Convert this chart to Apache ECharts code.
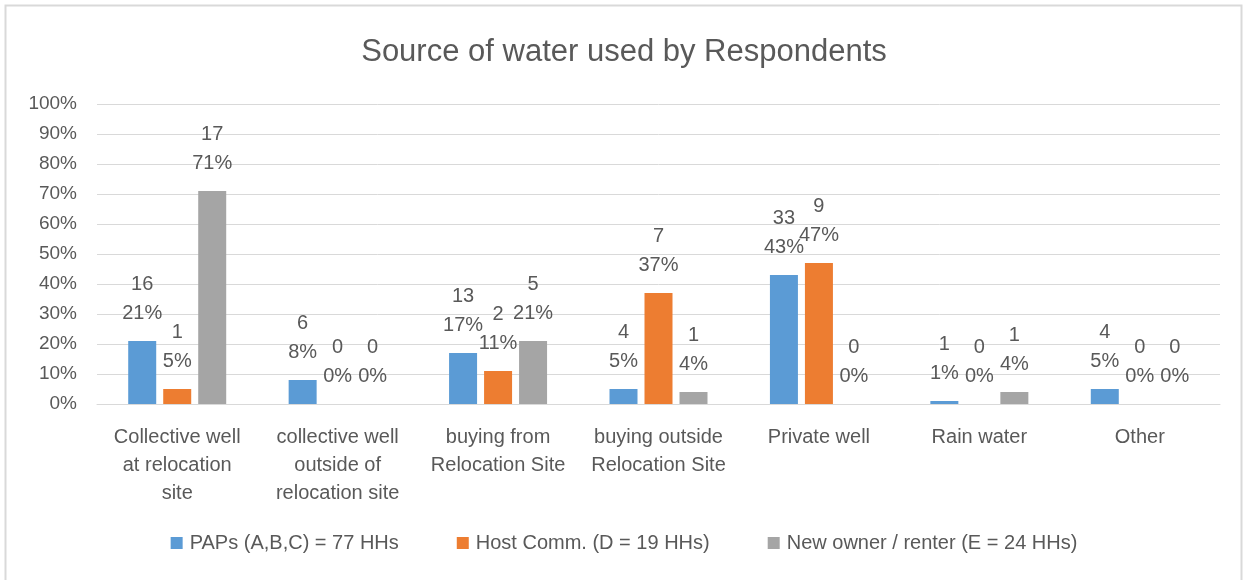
<!DOCTYPE html>
<html>
<head>
<meta charset="utf-8">
<script src="https://cdn.jsdelivr.net/npm/echarts@6/dist/echarts.min.js"></script>
<style>
    html, body { margin: 0; padding: 0; background: #fff; }
    #chart { width: 1248px; height: 580px; }
</style>
</head>
<body>
<div id="chart"></div>
<script>
var categories = [
    "Collective well\nat relocation\nsite",
    "collective well\noutside of\nrelocation site",
    "buying from\nRelocation Site",
    "buying outside\nRelocation Site",
    "Private well",
    "Rain water",
    "Other",
];

var seriesNames = [
    "PAPs (A,B,C) = 77 HHs",
    "Host Comm. (D = 19 HHs)",
    "New owner / renter (E = 24 HHs)",
];

// percent of households (bar height)
var papsPct = [21, 8, 17, 5, 43, 1, 5];
var hostPct = [5, 0, 11, 37, 47, 0, 0];
var newPct = [71, 0, 21, 4, 0, 4, 0];

// household counts (shown above the percent)
var papsCount = [16, 6, 13, 4, 33, 1, 4];
var hostCount = [1, 0, 2, 7, 9, 0, 0];
var newCount = [17, 0, 5, 1, 0, 1, 0];

var yTicks = [0, 10, 20, 30, 40, 50, 60, 70, 80, 90, 100];

var colors = ["#5B9BD5", "#ED7D31", "#A5A5A5"];
var textColor = "#595959";
var font = "Liberation Sans";

function makeSeries(name, pct, counts, color) {
    return {
        name: name,
        type: "bar",
        barWidth: 28,
        barGap: "25%",
        itemStyle: {
            color: color,
        },
        label: {
            show: true,
            position: "top",
            distance: 13,
            color: textColor,
            fontFamily: font,
            fontSize: 20,
            lineHeight: 29,
            formatter: function (p) {
                return counts[p.dataIndex] + "\n" + pct[p.dataIndex] + "%";
            },
        },
        data: pct,
    };
}

var option = {
    animation: false,
    textStyle: {
        fontFamily: font,
    },
    title: {
        text: "Source of water used by Respondents",
        left: "center",
        top: 32,
        textStyle: {
            color: textColor,
            fontFamily: font,
            fontSize: 31,
            fontWeight: "normal",
        },
    },
    graphic: [
        {
            type: "rect",
            shape: { x: 5.5, y: 5.5, width: 1236, height: 600 },
            style: { fill: "none", stroke: "#D9D9D9", lineWidth: 2 },
            silent: true,
        },
    ],
    legend: {
        bottom: 22,
        left: "center",
        itemWidth: 12,
        itemHeight: 12,
        itemGap: 58,
        icon: "rect",
        textStyle: {
            color: textColor,
            fontFamily: font,
            fontSize: 20,
            padding: [0, 0, 0, 2],
        },
        data: seriesNames,
    },
    grid: {
        left: 97,
        right: 28,
        top: 104,
        bottom: 176,
    },
    xAxis: {
        type: "category",
        data: categories,
        axisLine: {
            lineStyle: { color: "#D9D9D9", width: 1 },
        },
        axisTick: { show: false },
        axisLabel: {
            color: textColor,
            fontFamily: font,
            fontSize: 20,
            lineHeight: 28,
            margin: 19,
            interval: 0,
        },
    },
    yAxis: {
        type: "value",
        min: yTicks[0],
        max: yTicks[yTicks.length - 1],
        interval: 10,
        axisLine: { show: false },
        axisTick: { show: false },
        splitLine: {
            lineStyle: { color: "#D9D9D9", width: 1 },
        },
        axisLabel: {
            color: textColor,
            fontFamily: font,
            fontSize: 19,
            margin: 20,
            formatter: "{value}%",
        },
    },
    series: [
        makeSeries(seriesNames[0], papsPct, papsCount, colors[0]),
        makeSeries(seriesNames[1], hostPct, hostCount, colors[1]),
        makeSeries(seriesNames[2], newPct, newCount, colors[2]),
    ],
};

var chartDom = document.getElementById("chart");
var myChart = echarts.init(chartDom);
myChart.setOption(option);
</script>
</body>
</html>
